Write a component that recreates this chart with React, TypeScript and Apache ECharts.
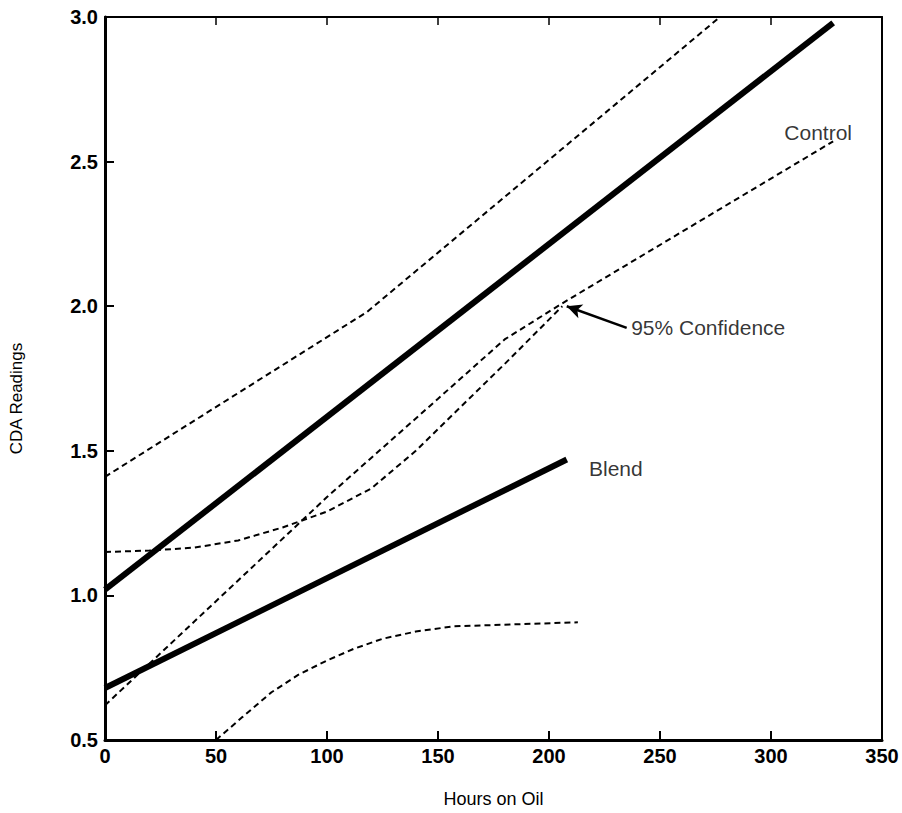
import React, { useEffect, useRef } from "react";
import * as echarts from "echarts";

// Fitted regression lines (Hours on Oil, CDA reading)
const controlFit: number[][] = [[0, 1.02], [328, 2.98]];
const blendFit: number[][] = [[0, 0.68], [208, 1.47]];

// 95% confidence limits
const controlUpper: number[][] = [[0, 1.41], [118, 1.98], [277, 3.0]];
const controlLower: number[][] = [
  [0, 0.62], [25, 0.8], [50, 0.98], [75, 1.16], [100, 1.34], [125, 1.51],
  [150, 1.68], [180, 1.885], [206, 2.01], [328, 2.57],
];
const blendUpper: number[][] = [
  [0, 1.15], [20, 1.155], [40, 1.165], [60, 1.19], [80, 1.235], [100, 1.29],
  [120, 1.37], [140, 1.5], [160, 1.65], [180, 1.8], [206, 2.0],
];
const blendLower: number[][] = [
  [50, 0.5], [62, 0.58], [75, 0.665], [87, 0.725], [100, 0.775], [112, 0.815],
  [125, 0.85], [140, 0.875], [157, 0.893], [185, 0.9], [213, 0.907],
];

// Annotations
const textLabels = [
  { name: "Control", value: [306, 2.6] },
  { name: "Blend", value: [218, 1.44] },
  { name: "95% Confidence", value: [237, 1.925] },
];
const arrowFrom = [235, 1.925];
const arrowTo = [208, 2.0];

const xTicks = { min: 0, max: 350, interval: 50 };
const yTicks = { min: 0.5, max: 3.0, interval: 0.5 };

const FONT = "Liberation Sans";

export default function App() {
  const ref = useRef<HTMLDivElement>(null);
  useEffect(() => {
    if (!ref.current) return;
    const chart = echarts.init(ref.current, undefined, { renderer: "svg" });
    const dashed = (data: number[][]) => ({
      type: "line",
      data,
      showSymbol: false,
      symbol: "none",
      lineStyle: { color: "#000", width: 2, type: [6, 4] },
      z: 2,
    });
    const solid = (data: number[][]) => ({
      type: "line",
      data,
      showSymbol: false,
      symbol: "none",
      lineStyle: { color: "#000", width: 6, cap: "butt" },
      z: 3,
    });
    chart.setOption({
      animation: false,
      backgroundColor: "#fff",
      textStyle: { fontFamily: FONT, color: "#000" },
      grid: { left: 104, top: 17, right: 20, bottom: 70, containLabel: false },
      xAxis: [
        {
          type: "value",
          ...xTicks,
          name: "Hours on Oil",
          nameLocation: "middle",
          nameGap: 50,
          nameTextStyle: { fontFamily: FONT, fontSize: 18, color: "#000" },
          axisLine: { show: true, onZero: false, lineStyle: { color: "#000", width: 3 } },
          axisTick: { show: true, inside: true, length: 9, lineStyle: { color: "#000", width: 2 } },
          axisLabel: { fontFamily: FONT, fontSize: 20, fontWeight: "bold", color: "#000", margin: 6 },
          splitLine: { show: false },
        },
        {
          type: "value",
          position: "top",
          ...xTicks,
          axisLine: { show: true, onZero: false, lineStyle: { color: "#000", width: 2 } },
          axisTick: { show: true, inside: true, length: 8, lineStyle: { color: "#000", width: 1.5 } },
          axisLabel: { show: false },
          splitLine: { show: false },
        },
      ],
      yAxis: [
        {
          type: "value",
          ...yTicks,
          name: "CDA Readings",
          nameLocation: "middle",
          nameRotate: 90,
          nameGap: 80,
          nameTextStyle: { fontFamily: FONT, fontSize: 17, color: "#000", padding: [0, 40, 0, 0] },
          axisLine: { show: true, onZero: false, lineStyle: { color: "#000", width: 3 } },
          axisTick: { show: true, inside: true, length: 9, lineStyle: { color: "#000", width: 2 } },
          axisLabel: {
            fontFamily: FONT,
            fontSize: 20,
            fontWeight: "bold",
            color: "#000",
            margin: 7,
            formatter: (v: number) => v.toFixed(1),
          },
          splitLine: { show: false },
        },
        {
          type: "value",
          position: "right",
          ...yTicks,
          axisLine: { show: true, onZero: false, lineStyle: { color: "#000", width: 2 } },
          axisTick: { show: false },
          axisLabel: { show: false },
          splitLine: { show: false },
        },
      ],
      series: [
        dashed(controlUpper),
        dashed(controlLower),
        dashed(blendUpper),
        dashed(blendLower),
        solid(controlFit),
        solid(blendFit),
        {
          type: "line",
          data: [],
          markLine: {
            silent: true,
            symbol: ["none", "arrow"],
            symbolSize: [11, 15],
            label: { show: false },
            lineStyle: { color: "#000", width: 2.5, type: "solid" },
            data: [[{ coord: arrowFrom }, { coord: arrowTo }]],
          },
        },
        {
          type: "scatter",
          data: textLabels,
          symbolSize: 0,
          label: {
            show: true,
            position: "right",
            distance: 0,
            formatter: (p: any) => p.name,
            fontFamily: FONT,
            fontSize: 21,
            color: "#000",
          },
          z: 5,
        },
      ],
    });
    return () => chart.dispose();
  }, []);
  return (
    <div
      ref={ref}
      style={{ position: "fixed", left: 0, top: 0, width: 902, height: 813, background: "#fff" }}
    />
  );
}
